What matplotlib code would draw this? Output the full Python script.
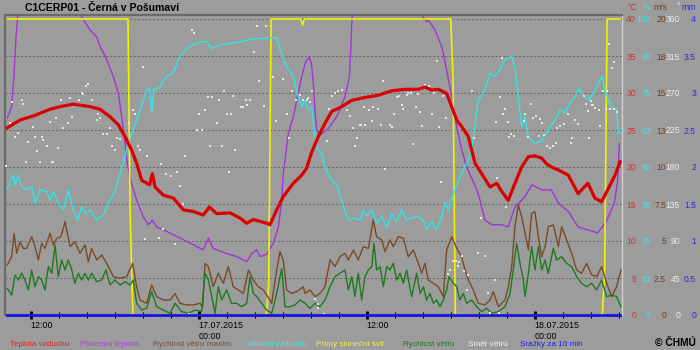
import numpy as np
import matplotlib
matplotlib.use("Agg")
import matplotlib.pyplot as plt

plt.rcParams['font.family'] = ['Liberation Sans', 'DejaVu Sans']

# ---------------- data (time in hours since 16.07.2015 00:00) ----------------
temp_h = [10.33, 11.24, 12.19, 13.38, 14.09, 15.04, 16.24, 16.95, 17.66, 18.26, 18.74, 19.2, 19.57,
          19.93, 20.5, 20.69, 20.88, 21.47, 22.19, 22.9, 23.6, 24.33, 24.76, 25.29, 26.24, 26.95,
          27.43, 27.9, 28.86, 29.09, 29.57, 30.04, 30.76, 31.36, 31.7, 32.07, 32.54, 33.02, 33.5,
          34.21, 34.93, 35.88, 36.83, 37.79, 38.74, 39.69, 40.16, 40.64, 41.11, 41.71, 42.07, 42.43,
          42.79, 43.26, 43.5, 43.74, 44.21, 44.81, 45.29, 45.64, 46.11, 46.59, 47.07, 47.55, 48.02,
          48.5, 48.86, 49.2, 49.69, 50.4, 51.1, 51.8, 52.3, 52.78, 53.26, 53.74, 54.1]
temp_c = [25.3, 26.35, 26.9, 27.8, 28.15, 28.5, 28.15, 27.8, 26.8, 25.7, 24.1, 22.3, 20.5,
          18.2, 17.6, 19.1, 17.3, 16.2, 15.8, 14.2, 14.0, 13.5, 14.6, 13.7, 13.8, 13.1,
          12.4, 12.9, 12.4, 12.2, 14.2, 16.0, 17.8, 18.9, 19.8, 22.0, 24.1, 25.9, 27.5,
          28.15, 29.0, 29.4, 29.7, 30.3, 30.5, 30.5, 30.8, 30.4, 30.5, 29.95, 28.15, 26.35,
          25.45, 24.1, 22.3, 20.5, 19.1, 17.3, 17.8, 16.7, 15.5, 17.8, 20.0, 21.4, 21.5,
          21.2, 20.4, 20.0, 19.6, 18.9, 16.4, 17.8, 15.8, 15.3, 17.1, 18.9, 20.7]

ground_h = [10.33, 10.64, 10.8, 10.95, 11.1, 12.0, 13.5, 15.0, 15.64, 16.24, 16.71, 16.95, 17.43,
            17.9, 18.26, 18.5, 18.74, 18.9, 19.0, 19.2, 19.57, 20.04, 20.4, 20.69, 21.0, 21.71,
            22.66, 23.6, 24.33, 24.69, 25.04, 26.0, 26.71, 27.43, 27.79, 28.14, 28.38, 28.86,
            29.33, 29.69, 29.93, 30.04, 30.16, 30.4, 30.76, 31.11, 31.36, 31.6, 31.9, 32.05,
            32.19, 32.3, 32.43, 32.66, 33.26, 33.86, 34.45, 34.76, 34.86, 34.93, 35.0, 36.5,
            38.0, 39.5, 40.04, 40.29, 40.4, 40.88, 41.36, 41.71, 42.07, 42.43, 42.79, 43.14,
            43.5, 43.97, 44.45, 44.93, 45.64, 46.11, 46.59, 47.31, 47.79, 48.5, 49.2, 49.69,
            50.4, 51.1, 51.8, 52.5, 53.1, 53.69, 53.93, 54.05]
ground_c = [26.6, 28.15, 32.2, 37.6, 41.0, 45.0, 47.0, 44.0, 40.3, 38.5, 37.6, 36.3, 34.5,
            32.2, 30.0, 26.8, 23.2, 20.5, 19.6, 17.8, 15.5, 13.3, 12.2, 12.8, 11.9, 11.3,
            10.4, 9.5, 8.8, 10.4, 9.0, 8.3, 7.9, 7.2, 8.3, 8.8, 7.9, 8.2,
            9.7, 11.9, 15.5, 19.1, 20.9, 24.55, 26.8, 30.0, 32.2, 34.0, 34.9, 34.0,
            31.3, 27.7, 25.0, 24.3, 25.2, 26.8, 29.5, 32.2, 35.8, 39.4, 41.0, 46.0,
            48.0, 45.0, 40.2, 39.6, 39.9, 38.5, 36.3, 33.1, 29.5, 25.45, 22.3, 20.0,
            18.5, 16.4, 12.8, 12.2, 12.2, 11.9, 14.6, 16.0, 17.6, 16.9, 16.9, 15.1,
            14.0, 11.9, 11.5, 11.1, 12.6, 15.1, 18.2, 23.2]

hum_h = [10.33, 10.52, 10.76, 10.88, 11.11, 11.36, 11.71, 12.07, 12.31, 12.66, 13.14, 13.38, 13.61,
         13.97, 14.33, 14.69, 15.04, 15.36, 15.64, 15.95, 16.24, 16.71, 17.19, 17.66, 18.02, 18.38,
         18.66, 18.97, 19.33, 19.81, 20.29, 20.52, 20.64, 20.81, 21.24, 21.71, 22.19, 22.66, 23.14,
         23.61, 24.09, 24.57, 24.93, 25.52, 26.24, 26.95, 27.9, 28.86, 29.57, 29.81, 30.29, 30.76,
         31.11, 31.36, 31.59, 31.83, 32.07, 32.31, 32.54, 32.79, 33.02, 33.5, 33.86, 34.21, 34.57,
         34.81, 35.16, 35.52, 35.76, 36.0, 36.36, 36.71, 37.07, 37.43, 37.79, 38.14, 38.5, 38.86,
         39.21, 39.69, 40.04, 40.29, 40.64, 41.0, 41.36, 41.59, 41.83, 42.19, 42.54, 43.02, 43.26,
         43.5, 43.97, 44.45, 44.81, 45.16, 45.52, 45.88, 46.36, 46.59, 46.83, 47.07, 47.31, 47.54,
         48.02, 48.38, 48.74, 49.09, 49.45, 49.81, 50.16, 50.52, 50.88, 51.16, 51.47, 51.83, 52.19,
         52.54, 52.83, 53.02, 53.26, 53.5, 53.86, 53.97, 54.16]
hum_pct = [42.8, 45.0, 47.3, 44.0, 47.3, 43.3, 42.3, 43.3, 37.8, 42.3, 41.8, 38.8, 41.8,
           37.8, 35.5, 42.3, 35.5, 32.0, 36.5, 34.3, 35.5, 32.0, 33.8, 38.8, 41.8, 47.8,
           52.3, 58.0, 62.5, 69.3, 76.0, 76.5, 68.3, 76.0, 77.1, 80.5, 81.8, 87.3, 90.0,
           91.3, 92.3, 92.3, 90.0, 91.3, 91.8, 92.3, 93.3, 93.5, 93.8, 89.5, 83.9, 80.5,
           73.8, 70.4, 72.6, 69.3, 70.4, 60.3, 55.8, 54.6, 50.0, 45.5, 44.0, 38.8, 33.3,
           32.0, 32.8, 32.0, 35.5, 33.3, 35.5, 31.0, 33.3, 29.3, 34.3, 31.5, 35.5, 32.0,
           32.8, 33.3, 32.0, 28.8, 31.5, 28.8, 33.3, 37.8, 35.5, 41.0, 45.5, 50.0, 52.3,
           55.8, 72.6, 76.0, 81.8, 80.5, 82.8, 86.3, 87.5, 83.3, 73.8, 63.6, 67.0, 60.3,
           58.0, 58.5, 60.8, 63.6, 65.9, 69.3, 68.3, 71.5, 73.8, 76.5, 74.3, 72.6, 74.9,
           78.3, 80.5, 76.0, 72.6, 70.4, 69.3, 61.4, 62.0]

gust_h = [10.33, 10.64, 10.81, 11.0, 11.24, 11.47, 11.71, 12.07, 12.31, 12.55, 12.78, 13.02, 13.38,
          13.62, 13.86, 14.16, 14.45, 14.81, 15.16, 15.52, 15.88, 16.12, 16.35, 16.71, 17.07, 17.43,
          17.9, 18.38, 18.85, 19.28, 19.57, 19.81, 20.28, 20.64, 21.0, 21.47, 21.95, 22.31, 22.66,
          23.14, 23.62, 24.09, 24.28, 24.45, 24.69, 25.04, 25.4, 25.76, 26.12, 26.47, 26.83, 27.19,
          27.55, 27.9, 28.26, 28.62, 28.85, 29.21, 29.57, 29.81, 30.04, 30.28, 30.64, 31.0, 31.47,
          31.59, 31.95, 32.31, 32.66, 33.02, 33.38, 33.74, 34.09, 34.45, 34.69, 35.05, 35.4, 35.76,
          36.12, 36.47, 36.71, 37.07, 37.31, 37.66, 37.9, 38.26, 38.62, 38.97, 39.33, 39.69, 39.93,
          40.16, 40.4, 40.76, 41.12, 41.47, 41.71, 42.07, 42.43, 42.78, 43.02, 43.26, 43.62, 43.97,
          44.45, 44.81, 45.05, 45.4, 45.88, 46.12, 46.36, 46.59, 46.83, 47.07, 47.31, 47.55, 47.78,
          48.02, 48.26, 48.5, 48.74, 48.97, 49.33, 49.69, 49.93, 50.28, 50.64, 51.0, 51.35, 51.71,
          52.07, 52.43, 52.78, 53.14, 53.5, 53.85, 54.16]
gust_ms = [3.38, 3.94, 5.52, 4.17, 4.95, 4.5, 4.5, 5.29, 4.62, 3.72, 4.84, 4.5, 5.52,
           4.73, 5.18, 5.29, 6.31, 4.62, 4.95, 4.17, 4.73, 3.6, 4.5, 3.72, 4.05, 3.49,
           2.59, 2.48, 2.59, 3.49, 1.91, 1.01, 0.79, 2.03, 1.24, 1.01, 1.01, 1.46, 0.79,
           0.68, 0.68, 0.79, 0.56, 3.49, 3.27, 1.91, 2.82, 2.14, 3.27, 1.91, 1.69, 1.46,
           3.04, 2.36, 1.91, 1.69, 1.35, 0.79, 3.04, 4.28, 3.72, 1.69, 1.46, 1.58, 1.91,
           1.46, 1.69, 1.24, 1.46, 1.91, 3.72, 3.27, 3.94, 4.17, 3.72, 4.39, 3.72, 4.62,
           4.5, 6.42, 5.29, 5.07, 4.28, 5.07, 4.62, 5.29, 5.18, 3.94, 4.39, 3.49, 2.82,
           3.49, 2.36, 2.14, 1.91, 1.24, 4.39, 5.29, 4.5, 3.94, 3.04, 2.36, 1.69, 0.79,
           0.68, 1.01, 1.58, 0.56, 1.01, 1.91, 3.27, 5.97, 7.43, 6.64, 5.52, 4.39, 6.87,
           6.98, 5.29, 3.94, 4.62, 5.97, 6.08, 4.62, 5.97, 5.07, 4.17, 3.04, 2.82, 3.49,
           2.7, 2.59, 3.27, 2.14, 1.24, 1.91, 3.04]

wind_h = [10.33, 10.64, 10.88, 11.12, 11.35, 11.59, 11.83, 12.07, 12.31, 12.55, 12.78, 13.02, 13.26,
          13.5, 13.74, 13.97, 14.21, 14.45, 14.69, 14.93, 15.16, 15.4, 15.64, 15.88, 16.12, 16.35,
          16.71, 17.07, 17.38, 17.66, 18.02, 18.38, 18.74, 19.09, 19.33, 19.57, 19.93, 20.28, 20.64,
          21.0, 21.47, 21.95, 22.31, 22.78, 23.26, 23.74, 24.21, 24.45, 24.69, 24.93, 25.16, 25.4,
          25.64, 26.0, 26.35, 26.71, 27.07, 27.43, 27.66, 27.9, 28.14, 28.5, 28.85, 29.21, 29.57,
          29.93, 30.16, 30.52, 30.88, 31.24,
          31.59, 31.95, 32.31, 32.66, 33.02, 33.38, 33.74, 34.09, 34.45, 34.69, 34.93, 35.16, 35.4,
          35.64, 35.88, 36.12, 36.36, 36.52, 36.71, 36.95, 37.19, 37.43, 37.66, 37.9, 38.14, 38.38,
          38.62, 38.85, 39.21, 39.57, 39.81, 40.05, 40.28, 40.52, 40.76, 41.0, 41.24, 41.47, 41.71,
          41.88, 42.19, 42.43, 42.66, 42.9, 43.14, 43.5, 43.85, 44.21, 44.57, 44.93, 45.4, 45.88,
          46.24, 46.47, 46.71, 46.95, 47.19, 47.31, 47.55, 47.78, 48.02, 48.26, 48.5, 48.74, 48.97,
          49.33, 49.57, 49.93, 50.28, 50.64, 51.0, 51.35, 51.71, 52.07, 52.43, 52.78, 53.14, 53.5,
          53.85, 54.16]
wind_ms = [1.8, 1.35, 2.7, 2.36, 2.82, 2.36, 1.69, 3.04, 1.91, 2.59, 2.36, 1.69, 3.27,
           2.82, 4.73, 2.59, 3.72, 3.04, 3.72, 3.04, 2.14, 2.82, 2.36, 2.82, 2.36, 2.82,
           2.25, 2.36, 3.04, 2.03, 2.36, 2.03, 2.25, 2.03, 2.36, 0.79, 0.34, 0.45, 1.58,
           0.56, 0.34, 0.11, 0.79, 0.23, 0.11, 0.34, 0.23, 2.82, 2.36, 1.24, 0.11, 1.91,
           1.01, 1.69, 0.79, 0.79, 0.56, 0.79, 2.59, 1.46, 1.24, 0.79, 0.34, 0.11, 1.46,
           3.15, 0.56, 0.56, 0.68, 1.01,
           0.79, 0.45, 0.79, 0.56, 1.01, 1.91, 2.59, 2.82, 3.04, 1.69, 2.59, 1.24, 2.82,
           1.01, 2.59, 3.04, 3.27, 4.84, 3.04, 3.27, 1.91, 3.27, 3.04, 3.49, 2.36, 2.82,
           2.14, 3.04, 1.24, 2.82, 1.46, 1.91, 1.01, 1.46, 0.79, 1.01, 0.56, 1.01, 1.69,
           2.59, 2.14, 1.91, 1.01, 1.46, 0.79, 1.01, 0.56, 0.23, 0.45, 0.11, 0.23, 0.56,
           1.46, 3.04, 4.84, 3.49, 2.36, 1.24, 2.82, 4.62, 3.04, 4.62, 3.04, 3.72, 2.82,
           4.5, 3.72, 3.94, 3.49, 3.27, 2.59, 2.14, 1.91, 2.14, 1.69, 2.36, 1.24, 1.35,
           1.24, 0.56]

dir_h = [10.24, 10.52, 10.64, 10.88, 11.11, 11.36, 11.47, 11.66, 11.83, 12.14, 12.31, 12.47, 12.66,
         12.79, 12.9, 13.14, 13.38, 13.5, 13.61, 13.81, 13.97, 14.16, 14.33, 14.69, 14.81, 14.93,
         15.47, 15.64, 15.76, 15.95, 16.11, 16.36, 16.71, 16.83, 16.95, 17.14, 17.47, 17.66, 17.79,
         18.02, 18.14, 18.38, 19.02, 19.33, 19.45, 19.69, 19.81, 20.0, 20.16, 20.33, 21.16, 21.33,
         21.47, 21.64, 22.0, 22.31, 22.47, 22.66, 22.86, 23.02, 23.19, 23.33, 23.5, 23.66, 23.86,
         24.02, 24.21, 24.45, 24.69, 24.81, 24.97, 25.33, 25.47, 25.64, 25.81, 26.0, 26.14, 26.29,
         26.47, 26.59, 27.0, 27.19, 27.38, 27.47, 27.66, 27.97, 28.14, 28.33, 28.66, 28.79, 29.33,
         29.5, 30.0, 30.29, 30.47, 30.64, 30.95, 31.24, 31.47, 31.71, 31.79, 31.95, 32.11, 32.31,
         32.5, 32.54, 32.97, 33.14, 33.3, 33.5, 33.74, 33.98, 34.21, 34.61, 34.81, 35.0, 35.17,
         35.29, 35.5, 35.62, 35.83, 35.9, 36.19, 36.36, 36.47, 36.83, 37.0, 37.19, 37.31, 37.7,
         37.8, 37.97, 38.16, 38.31, 38.5, 38.62, 38.86, 38.97, 39.16, 39.31, 39.5, 39.69, 39.83,
         39.97, 40.16, 40.47, 40.64, 40.83, 41.0, 41.16, 41.33, 41.47, 41.66, 41.83, 41.98, 42.19,
         42.4, 42.5, 42.6, 42.83, 42.97, 43.16, 43.26, 43.5, 43.69, 43.97, 44.14, 44.47, 44.64,
         44.81, 45.17, 45.26, 45.33, 45.48, 45.55, 45.64, 45.74, 45.91, 45.97, 46.09, 46.2, 46.3,
         46.5, 47.24, 47.29, 47.51, 47.76, 47.9, 48.1, 48.3, 48.4, 48.5, 48.7, 48.9, 49.1,
         49.3, 49.5, 49.6, 49.8, 50.1, 50.4, 50.6, 50.7, 50.9, 51.1, 51.5, 51.7, 51.8,
         51.9, 52.0, 52.1, 52.2, 52.3, 52.6, 52.7, 52.9, 53.1, 53.2, 53.3, 53.4, 53.55,
         53.66, 53.7, 53.9]
dir_deg = [181, 234, 259, 216, 221, 262, 257, 186, 211, 229, 216, 199, 186,
           216, 213, 205, 235, 186, 186, 240, 203, 262, 228, 234, 264, 241,
           262, 270, 269, 278, 281, 261, 237, 245, 239, 220, 220, 228, 205,
           201, 215, 214, 233, 249, 245, 205, 201, 302, 92, 193, 94, 184,
           105, 171, 169, 86, 174, 157, 135, 193, 126, 1, 347, 343, 225,
           245, 225, 249, 265, 205, 265, 234, 261, 205, 272, 244, 174, 244,
           266, 201, 253, 253, 261, 256, 261, 320, 352, 284, 254, 352, 290,
           236, 287, 244, 215, 272, 261, 268, 261, 262, 264, 259, 272, 19,
           8, 13, 1, 212, 251, 266, 270, 272, 274, 249, 242, 228, 205,
           215, 231, 231, 253, 231, 249, 236, 253, 250, 231, 284, 178, 231,
           229, 245, 265, 266, 256, 251, 268, 270, 270, 208, 253, 269, 247,
           230, 280, 278, 245, 270, 309, 229, 162, 266, 239, 50, 55, 66,
           66, 59, 64, 72, 53, 30, 49, 272, 215, 76, 118, 72, 27,
           3, 43, 235, 167, 2, 265, 313, 245, 251, 131, 235, 216, 220,
           218, 236, 245, 216, 257, 240, 242, 218, 238, 234, 219, 205, 203,
           205, 209, 228, 230, 232, 244, 209, 215, 237, 232, 266, 257, 248,
           215, 260, 256, 255, 252, 249, 230, 272, 250, 272, 330, 250, 301,
           308, 250, 247]

sun_h = [10.33, 18.95, 19.1, 19.3, 28.83, 29.0, 29.17, 31.3, 31.42, 31.55, 42.0, 42.17, 42.33,
         52.83, 53.0, 53.17, 54.1]
sun_min = [10, 10, 3.5, 0, 0, 1.0, 10, 10, 9.8, 10, 10, 8, 0, 0, 1.5, 10, 10]

rain_h = [10.33, 16.0, 22.0, 28.0, 34.0, 40.0, 46.0, 52.0, 54.1]
rain_mm = [0, 0, 0, 0, 0, 0, 0, 0, 0]

x_major = [12, 24, 36, 48]
x_major_labels = ['12:00', '17.07.2015\n00:00', '12:00', '18.07.2015\n00:00']

t_ticks = [0, 5, 10, 15, 20, 25, 30, 35, 40]
h_ticks = [0, 12.5, 25, 37.5, 50, 62.5, 75, 87.5, 100]
h_labels = ['0', '13', '25', '38', '50', '63', '75', '88', '100']
w_ticks = [0, 2.5, 5, 7.5, 10, 12.5, 15, 17.5, 20]
w_labels = ['0', '2.5', '5', '7.5', '10', '13', '15', '18', '20']
d_ticks = [0, 45, 90, 135, 180, 225, 270, 315, 360]
p_ticks = [0, 0.5, 1, 1.5, 2, 2.5, 3, 3.5, 4]
p_labels = ['0', '0.5', '1', '1.5', '2', '2.5', '3', '3.5', '4']

legend_items = [('Teplota vzduchu', '#e02020'), ('Přízemní teplota', '#b040e0'),
                ('Rychlost větru maxim.', '#7a5030'), ('Vlhkost vzduchu', '#40e8e8'),
                ('Přímý sluneční svit', '#f0f040'), ('Rychlost větru', '#1e7a1e'),
                ('Směr větru', '#f0f0f0'), ('Srážky za 10 min', '#2020f0')]
legend_x = [10, 80, 153, 247, 316, 403, 468, 520]

# ---------------- figure ----------------
W, H = 700, 350
BG = '#9c9c9c'
fig = plt.figure(figsize=(7, 3.5), dpi=100)
fig.patch.set_facecolor(BG)

L, R, T, B = 5, 622, 15, 315
ax = fig.add_axes([L / W, 1 - B / H, (R - L) / W, (B - T) / H])
ax.set_facecolor(BG)
TOP = (B - T) / 7.4   # degrees C at top edge
XL = (10.164, 54.236)

def mk_twin(scale):
    a = ax.twinx()
    a.set_ylim(0, TOP * scale)
    a.set_xlim(*XL)
    for s in a.spines.values():
        s.set_visible(False)
    return a

ax_s = mk_twin(1 / 4.0)
ax_h = mk_twin(2.5)
ax_w = mk_twin(0.5)
ax_d = mk_twin(9.0)
ax_p = mk_twin(0.1)
ax_r = mk_twin(1.0)

ax.set_ylim(0, TOP)
ax.set_xlim(*XL)

# grid
ax.set_yticks(t_ticks)
ax.yaxis.grid(True, color='#666666', linestyle=(0, (2, 2)), linewidth=0.7)
ax.set_axisbelow(True)

# series
ax.plot(ground_h, ground_c, color='#a234d8', lw=1.0, zorder=3)
ax_s.plot(sun_h, sun_min, color='#f2f200', lw=1.2)
ax_h.plot(hum_h, hum_pct, color='#2ee6e6', lw=1.0)
ax_w.plot(gust_h, gust_ms, color='#7a4a26', lw=1.0)
ax_w.plot(wind_h, wind_ms, color='#1e7a1e', lw=1.0)
ax_d.plot(dir_h, dir_deg, linestyle='none', marker='s', markersize=1.7,
          markerfacecolor='#e4e4e4', markeredgewidth=0)
ax_p.plot(rain_h, rain_mm, color='#1414e6', lw=2.0, clip_on=False, zorder=5)
ax_r.plot(temp_h, temp_c, color='#d80000', lw=2.3, solid_joinstyle='round')

# spines of main axes
ax.spines['bottom'].set_visible(False)
ax.spines['left'].set_color('#6a6a6a')
ax.spines['left'].set_linewidth(1.6)
ax.spines['top'].set_color('#6a6a6a')
ax.spines['top'].set_linewidth(1.6)
ax.spines['right'].set_color('#d0d0d0')
ax.spines['right'].set_linewidth(1.0)

# x ticks
ax.set_xticks(x_major)
ax.set_xticks(np.arange(12, 55, 2), minor=True)
ax.set_xticklabels(x_major_labels)
ax.tick_params(axis='x', which='major', direction='inout', length=6, width=2.0,
               color='black', labelsize=6.4, pad=1.5, labelcolor='black')
ax.tick_params(axis='x', which='minor', direction='inout', length=5, width=0.8, color='black')
for lab in ax.get_xticklabels():
    lab.set_horizontalalignment('left')
    lab.set_multialignment('left')

# right-side y labels
FS = 6.2
def right_labels(a, ticks, labels, color, px_right):
    a.yaxis.set_ticks_position('right')
    a.set_yticks(ticks)
    a.set_yticklabels(labels)
    a.tick_params(axis='y', which='both', length=0, labelsize=FS, labelcolor=color,
                  pad=(px_right - R) * 0.72, left=False, labelleft=False, right=True, labelright=True)
    for lab in a.get_yticklabels():
        lab.set_horizontalalignment('right')

right_labels(ax, t_ticks, [str(v) for v in t_ticks], '#d03434', 636)
right_labels(ax_h, h_ticks, h_labels, '#3ee6e6', 651)
right_labels(ax_w, w_ticks, w_labels, '#6e4424', 666)
right_labels(ax_d, d_ticks, [str(v) for v in d_ticks], '#eeeeee', 680)
right_labels(ax_p, p_ticks, p_labels, '#2a2ae0', 696)
for a in (ax_s, ax_r):
    a.set_yticks([])
    a.tick_params(axis='y', length=0, labelright=False)

# unit headers
for txt, col, xr in [('°C', '#d03434', 637), ('%', '#3ee6e6', 650), ('m/s', '#6e4424', 667),
                     ('°', '#eeeeee', 680), ('mm', '#2a2ae0', 696)]:
    fig.text(xr / W, 1 - 7 / H, txt, color=col, fontsize=FS, ha='right', va='center')

# title
fig.text(25 / W, 1 - 8 / H, 'C1CERP01 - Černá v Pošumaví', fontsize=7.6,
         fontweight='bold', color='black', ha='left', va='center')

# legend
for (txt, col), xl in zip(legend_items, legend_x):
    fig.text(xl / W, 1 - 344 / H, txt, color=col, fontsize=5.9, ha='left', va='center')
fig.text(655 / W, 1 - 343 / H, '© ČHMÚ', color='black', fontsize=7.4, fontweight='bold',
         ha='left', va='center')

fig.savefig('out.png', dpi=100, facecolor=BG)
